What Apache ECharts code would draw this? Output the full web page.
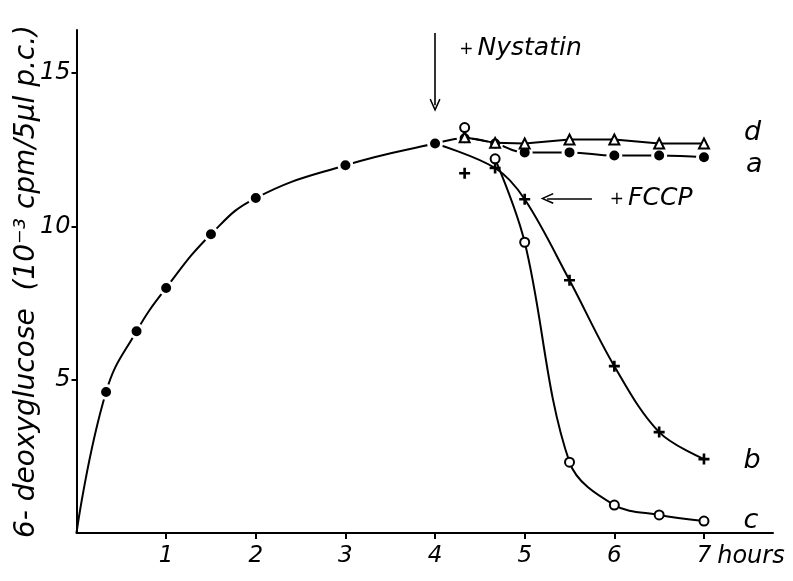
<!DOCTYPE html>
<html lang="en">
<head>
    <meta charset="UTF-8">
    <title>6-deoxyglucose uptake</title>
    <script src="https://cdn.jsdelivr.net/npm/echarts@6/dist/echarts.min.js"></script>
</head>
<body style="margin:0;background:#fff;">
<div id="chartContainer" style="width:793px;height:581px;"></div>
<script type="text/javascript">
    // readings (hours, 10^-3 cpm / 5ul p.c.)
    var curveA = [[0, 0], [0.33, 4.6], [0.67, 6.58], [1, 7.99], [1.5, 9.74], [2, 10.92], [3, 11.99], [4, 12.7],
        [4.33, 12.87], [4.67, 12.7], [5, 12.41], [5.5, 12.41], [6, 12.31], [6.5, 12.31], [7, 12.25]];
    var curveD = [[4.33, 12.9], [4.67, 12.72], [5, 12.7], [5.5, 12.83], [6, 12.83], [6.5, 12.7], [7, 12.7]];
    var curveB = [[4, 12.7], [4.67, 11.9], [5, 10.88], [5.5, 8.24], [6, 5.44], [6.5, 3.29], [7, 2.41]];
    var curveC = [[4.67, 12.2], [5, 9.48], [5.5, 2.31], [6, 0.91], [6.5, 0.59], [7, 0.39]];
    var extraB = [[4.33, 11.73]];
    var extraC = [[4.33, 13.22]];
    var xTicks = [1, 2, 3, 4, 5, 6, 7];
    var yTicks = [5, 10, 15];

    var font = 'DejaVu Sans';
    var plusPath = 'path://M3.8,0H6.2V3.8H10V6.2H6.2V10H3.8V6.2H0V3.8H3.8Z';
    var chevron = 'path://M5,0L10,9L8.8,9.6L5,2.6L1.2,9.6L0,9Z';

    // last point of each curve carries its letter
    function withEndLabel(arr, letter, dy, firstBare) {
        return arr.map(function (p, i) {
            var item = {value: p};
            if (firstBare && i === 0) item.symbol = 'none';
            if (i === arr.length - 1) {
                item.label = {
                    show: true, position: 'right', distance: 34, offset: [0, dy],
                    formatter: letter, fontFamily: font, fontStyle: 'italic', fontSize: 27, color: '#000'
                };
            }
            return item;
        });
    }

    var chartDom = document.getElementById('chartContainer');
    var myChart = echarts.init(chartDom);
    var option = {
        animation: false,
        backgroundColor: '#fff',
        grid: {left: 76.5, right: 20, top: 30, bottom: 48, outerBoundsMode: 'none'},
        xAxis: {
            type: 'value', min: 0, max: 7.77, interval: 1,
            name: 'hours', nameLocation: 'end', nameGap: -57,
            nameTextStyle: {fontFamily: font, fontStyle: 'italic', fontSize: 24, color: '#000',
                align: 'left', verticalAlign: 'top', padding: [12, 0, 0, 0]},
            axisLine: {lineStyle: {color: '#000', width: 2}},
            axisTick: {customValues: xTicks, length: 6, lineStyle: {color: '#000', width: 2}},
            axisLabel: {customValues: xTicks, margin: 12, fontFamily: font, fontStyle: 'italic', fontSize: 23, color: '#000'},
            splitLine: {show: false}
        },
        yAxis: {
            type: 'value', min: 0, max: 16.4, interval: 5,
            name: '6- deoxyglucose  (10⁻³ cpm/5µl p.c.)', nameLocation: 'middle', nameGap: 36, nameRotate: 90,
            nameMoveOverlap: false,
            nameTextStyle: {fontFamily: font, fontStyle: 'italic', fontSize: 28, color: '#000'},
            axisLine: {lineStyle: {color: '#000', width: 2}},
            axisTick: {customValues: yTicks, length: 5, lineStyle: {color: '#000', width: 2}},
            axisLabel: {customValues: yTicks, margin: 6, fontFamily: font, fontStyle: 'italic', fontSize: 24, color: '#000'},
            splitLine: {show: false}
        },
        series: [
            {
                name: 'a', type: 'line', smooth: 0.45, z: 3,
                data: withEndLabel(curveA, 'a', 8, true),
                symbol: 'circle', symbolSize: 13,
                itemStyle: {color: '#000', borderColor: '#fff', borderWidth: 3},
                lineStyle: {color: '#000', width: 2},
                markLine: {
                    silent: true, symbol: ['none', chevron], symbolSize: [11, 13],
                    lineStyle: {color: '#000', width: 1.6, type: 'solid'},
                    label: {show: false},
                    data: [
                        [{coord: [4, 16.3]}, {coord: [4, 13.95]}],
                        [{coord: [5.75, 10.91]}, {coord: [5.25, 10.91]}]
                    ]
                },
                markPoint: {
                    silent: true, symbol: 'circle', symbolSize: 0,
                    label: {show: true, position: 'right', distance: 0, color: '#000',
                        fontFamily: font, fontStyle: 'italic', fontSize: 25,
                        rich: {p: {fontFamily: font, fontSize: 17, color: '#000', padding: [2, 4, 0, 0]}}},
                    data: [
                        {coord: [4.27, 15.8], label: {formatter: '{p|+}Nystatin'}},
                        {coord: [5.95, 10.91], label: {formatter: '{p|+}FCCP'}}
                    ]
                }
            },
            {
                name: 'd', type: 'line', z: 4,
                data: withEndLabel(curveD, 'd', -10, false),
                symbol: 'triangle', symbolSize: 10,
                itemStyle: {color: '#fff', borderColor: '#000', borderWidth: 2},
                lineStyle: {color: '#000', width: 2}
            },
            {
                name: 'b', type: 'line', smooth: 0.35, z: 3,
                data: withEndLabel(curveB, 'b', 2, true),
                symbol: plusPath, symbolSize: 11,
                itemStyle: {color: '#000'},
                lineStyle: {color: '#000', width: 2}
            },
            {
                name: 'c', type: 'line', smooth: 0.35, z: 3,
                data: withEndLabel(curveC, 'c', 0, false),
                symbol: 'circle', symbolSize: 9,
                itemStyle: {color: '#fff', borderColor: '#000', borderWidth: 2},
                lineStyle: {color: '#000', width: 2}
            },
            {
                name: 'b extra', type: 'scatter', data: extraB, z: 4,
                symbol: plusPath, symbolSize: 11, itemStyle: {color: '#000', opacity: 1}
            },
            {
                name: 'c extra', type: 'scatter', data: extraC, z: 4,
                symbol: 'circle', symbolSize: 9,
                itemStyle: {color: '#fff', borderColor: '#000', borderWidth: 2, opacity: 1}
            }
        ]
    };
    option && myChart.setOption(option);
</script>
</body>
</html>
